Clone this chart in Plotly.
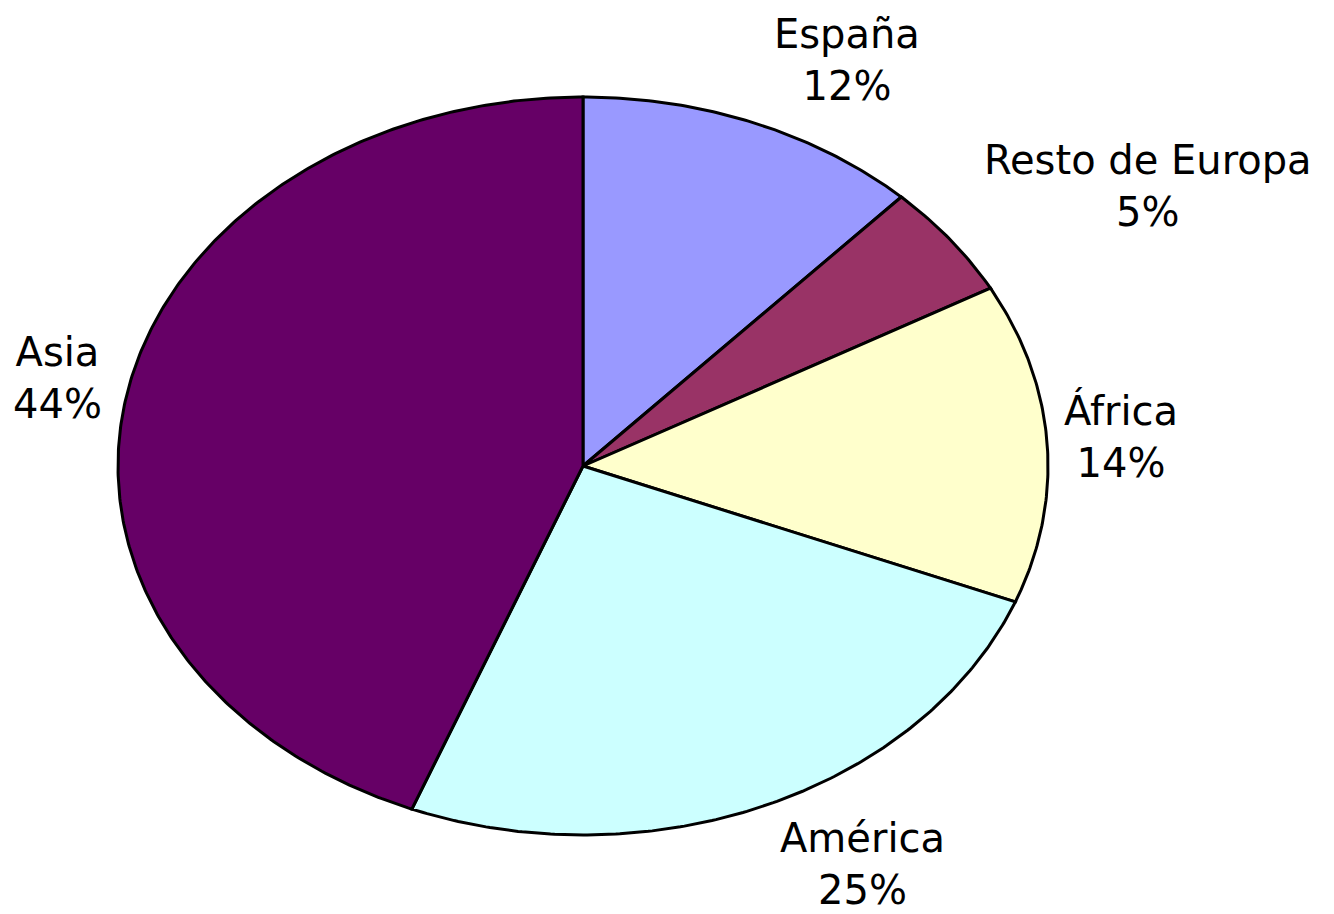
import numpy as np
import plotly.graph_objects as go

# Data
categories = ["España", "Resto de Europa", "África", "América", "Asia"]
values = [12, 5, 14, 25, 44]
colors = ["#9999FF", "#993366", "#FFFFCC", "#CCFFFF", "#660066"]

# label positions (pixel space) for text annotations
label_pos = [(847, 60), (1148, 186), (1121, 436), (862, 864), (57, 378)]

W, H = 1334, 914
OFF = 8  # page body margin compensation
cx, cy, rx, ry = 583, 466, 465, 369

fig = go.Figure()
total = sum(values)
start = 90.0
for cat, v, col in zip(categories, values, colors):
    sweep = 360.0 * v / total
    t = np.radians(np.linspace(start, start - sweep, max(int(sweep * 2), 8)))
    xs = np.concatenate([[cx], cx + rx * np.cos(t), [cx]])
    ys = np.concatenate([[cy], cy - ry * np.sin(t), [cy]])
    fig.add_trace(go.Scatter(x=xs, y=ys, mode="lines", fill="toself",
                             fillcolor=col, line=dict(color="black", width=3),
                             name=cat, hoverinfo="name", showlegend=False))
    start -= sweep

for cat, v, (lx, ly) in zip(categories, values, label_pos):
    fig.add_annotation(x=lx, y=ly, text=f"{cat}<br>{v}%", showarrow=False,
                       font=dict(family="DejaVu Sans", size=40, color="black"),
                       xanchor="center", yanchor="middle", align="center",
                       borderpad=0)

fig.update_xaxes(range=[OFF, W + OFF], visible=False, fixedrange=True)
fig.update_yaxes(range=[H + OFF, OFF], visible=False, fixedrange=True)
fig.update_layout(width=W, height=H, margin=dict(l=0, r=0, t=0, b=0),
                  paper_bgcolor="white", plot_bgcolor="white")
fig.write_html("out.html")
